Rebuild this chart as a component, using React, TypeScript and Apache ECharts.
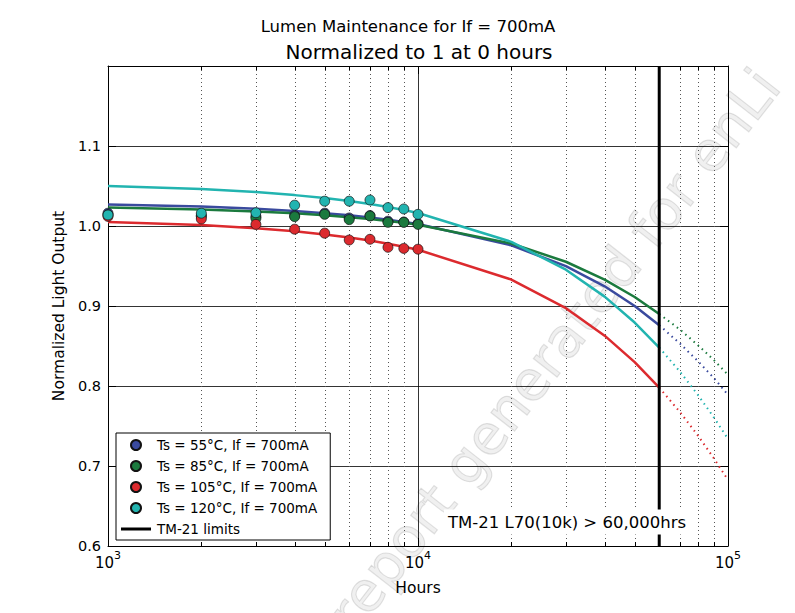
import React, { useEffect, useRef } from 'react';
import * as echarts from 'echarts';

// Measured data (hours, normalized output)
const hoursMeasured = [1000, 2000, 3000, 4000, 5000, 6000, 7000, 8000, 9000, 10000];
const meas55 = [1.016, 1.013, 1.012, 1.013, 1.016, 1.01, 1.013, 1.006, 1.005, 1.003];
const meas85 = [1.014, 1.012, 1.0096, 1.0117, 1.0146, 1.008, 1.0125, 1.0046, 1.0046, 1.002];
const meas105 = [1.012, 1.0088, 1.002, 0.996, 0.991, 0.9825, 0.9834, 0.9734, 0.972, 0.971];
const meas120 = [1.0138, 1.016, 1.0166, 1.026, 1.031, 1.031, 1.0325, 1.023, 1.0213, 1.0146];

// Fitted curves (solid, up to the TM-21 limit)
const hoursFit = [1000, 2000, 3000, 4000, 5000, 6000, 7000, 8000, 9000, 10000, 20000, 30000, 40000, 50000, 60000];
const fit55 = [1.027, 1.0243, 1.0215, 1.0188, 1.016, 1.0133, 1.0106, 1.0078, 1.0051, 1.0024, 0.9758, 0.9498, 0.9246, 0.9, 0.876];
const fit85 = [1.023, 1.0206, 1.0182, 1.0158, 1.0134, 1.011, 1.0086, 1.0062, 1.0039, 1.0015, 0.9781, 0.9553, 0.933, 0.9113, 0.89];
const fit105 = [1.0051, 1.0011, 0.9972, 0.9933, 0.9895, 0.9856, 0.9818, 0.9779, 0.9741, 0.9703, 0.9331, 0.8973, 0.8629, 0.8298, 0.798];
const fit120 = [1.05, 1.0462, 1.0424, 1.0386, 1.0349, 1.0312, 1.0274, 1.0237, 1.02, 1.0163, 0.9802, 0.9454, 0.9117, 0.8793, 0.8481];

// Extrapolation beyond the limit (dotted)
const hoursExt = [60000, 70000, 80000, 90000, 100000];
const ext55 = [0.876, 0.853, 0.831, 0.81, 0.789];
const ext85 = [0.89, 0.8705, 0.851, 0.8325, 0.814];
const ext105 = [0.798, 0.7674, 0.738, 0.7097, 0.6825];
const ext120 = [0.8481, 0.8179, 0.7888, 0.7608, 0.7338];

const limitHours = 60000;
const limitRange = [0.6, 1.2];
const minorHours = [2000, 3000, 4000, 5000, 6000, 7000, 8000, 9000, 20000, 30000, 40000, 50000, 60000, 70000, 80000, 90000];

const names = [
  'Ts = 55°C, If = 700mA',
  'Ts = 85°C, If = 700mA',
  'Ts = 105°C, If = 700mA',
  'Ts = 120°C, If = 700mA',
];
const limitName = 'TM-21 limits';
const colors = ['#3a4a9e', '#1b7a3e', '#dc2a2e', '#22b4b0'];

const FONT = 'DejaVu Sans';

export default function App() {
  const ref = useRef<HTMLDivElement>(null);
  useEffect(() => {
    if (!ref.current) return;
    const chart = echarts.init(ref.current, undefined, { renderer: 'svg' });
    const measAll = [meas55, meas85, meas105, meas120];
    const fitAll = [fit55, fit85, fit105, fit120];
    const extAll = [ext55, ext85, ext105, ext120];
    const zip = (xs: number[], ys: number[]) => xs.map((x, i) => [x, ys[i]]);

    const series: any[] = [];
    series.push({
      type: 'custom',
      name: 'minor',
      silent: true,
      z: 1,
      data: minorHours.map((h) => [h, 0.6]),
      renderItem: (params: any, api: any) => {
        const cs = params.coordSys;
        const x = Math.round(api.coord([api.value(0), 0.6])[0]) + 0.5;
        const top = cs.y;
        const bottom = cs.y + cs.height;
        return {
          type: 'group',
          children: [
            { type: 'line', shape: { x1: x, y1: top, x2: x, y2: bottom }, style: { stroke: '#555', lineWidth: 1, lineDash: [1, 3] } },
            { type: 'line', shape: { x1: x, y1: bottom, x2: x, y2: bottom - 4 }, style: { stroke: '#000', lineWidth: 1 } },
            { type: 'line', shape: { x1: x, y1: top, x2: x, y2: top + 4 }, style: { stroke: '#000', lineWidth: 1 } },
          ],
        };
      },
    });
    for (let i = 0; i < 4; i++) {
      series.push({
        type: 'line',
        name: names[i] + ' fit',
        data: zip(hoursFit, fitAll[i]),
        showSymbol: false,
        symbol: 'none',
        lineStyle: { color: colors[i], width: 2.5 },
        z: 3,
        silent: true,
      });
      series.push({
        type: 'line',
        name: names[i] + ' ext',
        data: zip(hoursExt, extAll[i]),
        showSymbol: false,
        symbol: 'none',
        lineStyle: { color: colors[i], width: 2, type: [1.5, 4] },
        z: 3,
        silent: true,
      });
    }
    series.push({
      type: 'line',
      name: limitName,
      data: [[limitHours, limitRange[0]], [limitHours, limitRange[1]]],
      showSymbol: false,
      symbol: 'none',
      color: '#000',
      lineStyle: { color: '#000', width: 3 },
      z: 4,
      silent: true,
    });
    for (let i = 0; i < 4; i++) {
      series.push({
        type: 'scatter',
        name: names[i],
        data: zip(hoursMeasured, measAll[i]),
        symbol: 'circle',
        symbolSize: 10,
        itemStyle: { color: colors[i], borderColor: '#111', borderWidth: 0.7, opacity: 1 },
        z: 5,
        silent: true,
      });
    }

    const option: any = {
      animation: false,
      textStyle: { fontFamily: FONT, color: '#000' },
      grid: { left: 108, right: 67, top: 66, bottom: 67 },
      xAxis: [
        {
          type: 'log',
          logBase: 10,
          min: 1000,
          max: 100000,
          position: 'bottom',
          name: 'Hours',
          nameLocation: 'middle',
          nameGap: 34,
          nameTextStyle: { fontSize: 15.5, color: '#000', fontFamily: FONT },
          axisLine: { show: true, lineStyle: { color: '#000', width: 1 } },
          axisTick: { show: true, inside: true, length: 8, lineStyle: { color: '#000' } },
          splitLine: { show: true, lineStyle: { color: '#000', width: 0.8 } },
          axisLabel: {
            margin: 4,
            formatter: (v: number) => `{b|10}{s|${Math.round(Math.log10(v))}}`,
            rich: {
              b: { fontSize: 15, fontFamily: FONT, color: '#000', lineHeight: 20, verticalAlign: 'bottom' },
              s: { fontSize: 11, fontFamily: FONT, color: '#000', lineHeight: 20, verticalAlign: 'top' },
            },
          },
        },
        {
          type: 'log',
          logBase: 10,
          min: 1000,
          max: 100000,
          position: 'top',
          axisLine: { show: true, lineStyle: { color: '#000', width: 1 } },
          axisTick: { show: true, inside: true, length: 8, lineStyle: { color: '#000' } },
          axisLabel: { show: false },
          splitLine: { show: false },
        },
      ],
      yAxis: [
        {
          type: 'value',
          min: 0.6,
          max: 1.2,
          interval: 0.1,
          position: 'left',
          name: 'Normalized Light Output',
          nameLocation: 'middle',
          nameGap: 37,
          nameRotate: 90,
          nameTextStyle: { fontSize: 15.5, color: '#000', fontFamily: FONT },
          axisLine: { show: true, lineStyle: { color: '#000', width: 1 } },
          axisTick: { show: true, inside: true, length: 8, lineStyle: { color: '#000' } },
          splitLine: { show: true, lineStyle: { color: '#000', width: 0.8 } },
          axisLabel: {
            margin: 7,
            fontSize: 14.5,
            color: '#000',
            fontFamily: FONT,
            formatter: (v: number) => (v > 1.15 ? '' : v.toFixed(1)),
          },
        },
        {
          type: 'value',
          min: 0.6,
          max: 1.2,
          interval: 0.1,
          position: 'right',
          axisLine: { show: true, lineStyle: { color: '#000', width: 1 } },
          axisTick: { show: true, inside: true, length: 8, lineStyle: { color: '#000' } },
          axisLabel: { show: false },
          splitLine: { show: false },
        },
      ],
      legend: {
        data: [
          ...names.map((n) => ({ name: n, icon: 'circle' })),
          { name: limitName, icon: 'path://M0,0 H30 V3 H0 Z', itemStyle: { color: '#000' } },
        ],
        orient: 'vertical',
        left: 116,
        top: 433,
        itemWidth: 30,
        itemHeight: 10,
        itemGap: 7,
        padding: [5, 13, 4, 5],
        borderColor: '#000',
        borderWidth: 1,
        borderRadius: 0,
        backgroundColor: '#fff',
        selectedMode: false,
        textStyle: { fontSize: 13.5, fontFamily: FONT, color: '#000', lineHeight: 14, padding: [0, 0, 0, 1] },
        z: 10,
      },
      graphic: [
        {
          type: 'text',
          z: 0,
          silent: true,
          x: 554,
          y: 350,
          rotation: (52 * Math.PI) / 180,
          style: {
            text: 'report generated for enLi',
            fontSize: 55,
            fontFamily: FONT,
            fill: 'rgba(0,0,0,0.06)',
            stroke: 'rgba(0,0,0,0.11)',
            lineWidth: 1.2,
            align: 'center',
            verticalAlign: 'middle',
          },
        },
        {
          type: 'text',
          x: 408,
          y: 26,
          style: { text: 'Lumen Maintenance for If = 700mA', fontSize: 16.5, fontFamily: FONT, fill: '#000', align: 'center', verticalAlign: 'middle' },
        },
        {
          type: 'text',
          x: 419,
          y: 52,
          style: { text: 'Normalized to 1 at 0 hours', fontSize: 20, fontFamily: FONT, fill: '#000', align: 'center', verticalAlign: 'middle' },
        },
        {
          type: 'text',
          z: 100,
          x: 567,
          y: 522,
          style: {
            text: 'TM-21 L70(10k) > 60,000hrs',
            fontSize: 16.5,
            fontFamily: FONT,
            fill: '#000',
            align: 'center',
            verticalAlign: 'middle',
            backgroundColor: '#fff',
            padding: [4, 4, 4, 4],
          },
        },
      ],
      series,
    };
    chart.setOption(option);
    return () => chart.dispose();
  }, []);
  return <div ref={ref} style={{ position: 'absolute', left: 0, top: 0, width: 795, height: 613 }} />;
}
